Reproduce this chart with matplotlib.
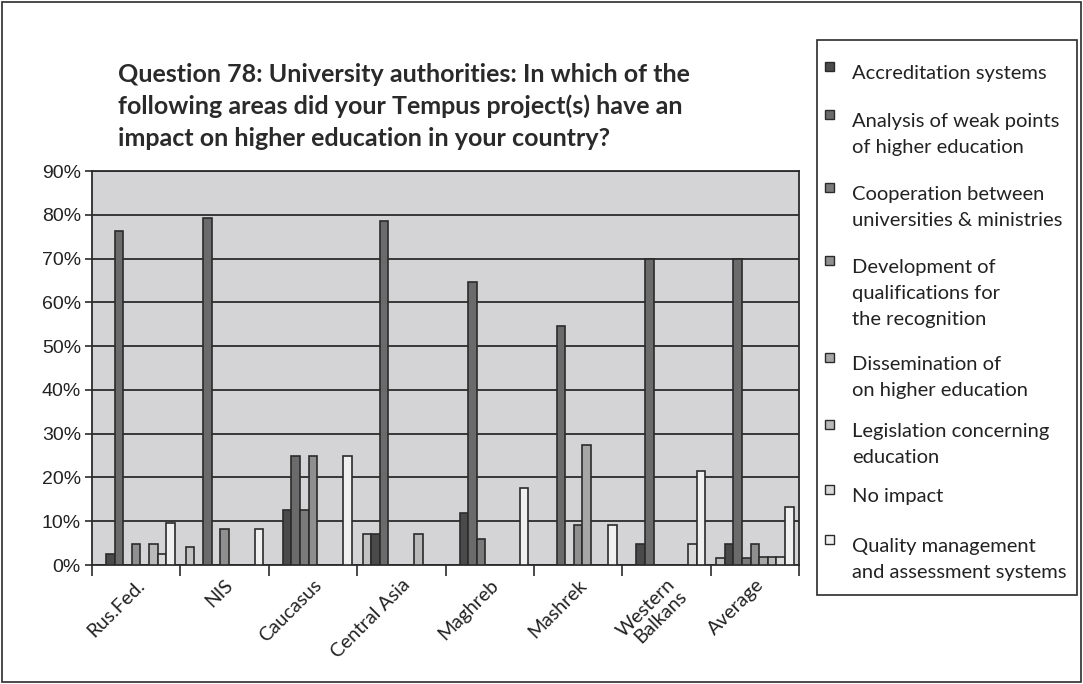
import numpy as np
import matplotlib.pyplot as plt
from matplotlib.patches import Rectangle

categories = ['Rus.Fed.', 'NIS', 'Caucasus', 'Central Asia', 'Maghreb',
              'Mashrek', 'Western\nBalkans', 'Average']

# one unnamed series plus the eight that are in the legend
unnamed = [0, 4.2, 0, 7.1, 0, 0, 0, 1.5]
accreditation = [2.4, 0, 12.5, 7.1, 11.8, 0, 4.8, 4.7]
analysis = [76.2, 79.2, 25, 78.6, 64.7, 54.5, 70, 70]
cooperation = [0, 0, 12.5, 0, 5.9, 0, 0, 1.5]
development = [4.8, 8.3, 25, 0, 0, 9.1, 0, 4.7]
dissemination = [0, 0, 0, 0, 0, 27.3, 0, 1.9]
legislation = [4.8, 0, 0, 7.1, 0, 0, 0, 1.9]
no_impact = [2.4, 0, 0, 0, 0, 0, 4.8, 1.9]
quality = [9.5, 8.3, 25, 0, 17.6, 9.1, 21.4, 13.3]

series = [unnamed, accreditation, analysis, cooperation, development,
          dissemination, legislation, no_impact, quality]
labels = [None,
          'Accreditation systems',
          'Analysis of weak points\nof higher education',
          'Cooperation between\nuniversities & ministries',
          'Development of\nqualifications for\nthe recognition',
          'Dissemination of\non higher education',
          'Legislation concerning\neducation',
          'No impact',
          'Quality management\nand assessment systems']
colors = ['#c2c2c2', '#4a4a4a', '#6b6b6b', '#7b7b7b', '#8f8f8f',
          '#a6a6a6', '#b9b9b9', '#d9d9d9', '#f0f0f0']
yticks = [0, 10, 20, 30, 40, 50, 60, 70, 80, 90]

W, H = 1083, 684
fig = plt.figure(figsize=(W / 100, H / 100), dpi=100)
ax = fig.add_axes([92 / W, 1 - 565 / H, (799 - 92) / W, (565 - 171) / H])

x = np.arange(len(categories))
w = 0.0973
for j, vals in enumerate(series):
    ax.bar(x + (j - 4) * w, vals, w, color=colors[j], edgecolor='#2b2b2b',
           linewidth=1.2, zorder=3)

ax.set_facecolor('#d4d4d6')
ax.set_xlim(-0.5, len(categories) - 0.5)
ax.set_ylim(0, 90)
ax.set_yticks(yticks)
ax.set_yticklabels([f'{t}%' for t in yticks], fontsize=14, family='Liberation Sans',
                   color='#222222')
ax.yaxis.grid(True, color='#2b2b2b', linewidth=1.3, zorder=0)
ax.set_axisbelow(True)

# separators between groups as ticks, names as minor ticks
ax.set_xticks(np.arange(-0.5, len(categories)), labels=[''] * (len(categories) + 1))
ax.set_xticks(x, minor=True)
ax.set_xticklabels(categories, minor=True, rotation=45, ha='right', va='top',
                   rotation_mode='anchor', fontsize=14, family='Lato', color='#222222',
                   linespacing=0.95)
ax.tick_params(axis='x', which='major', length=8, width=1.2, color='#2b2b2b')
ax.tick_params(axis='x', which='minor', length=0, pad=8)
ax.tick_params(axis='y', length=5, width=1.2, color='#2b2b2b', pad=3)
for s in ax.spines.values():
    s.set_color('#2b2b2b')
    s.set_linewidth(1.3)

# title
title = ['Question 78: University authorities: In which of the',
         'following areas did your Tempus project(s) have an',
         'impact on higher education in your country?']
for i, line in enumerate(title):
    fig.text(118 / W, 1 - (74 + 32 * i) / H, line, fontsize=18, fontweight='bold',
             family='Lato', color='#2a2a2a', va='center', ha='left')

# legend box drawn by hand
fig.patches.append(Rectangle((817 / W, 1 - 595 / H), (1077 - 817) / W, (595 - 40) / H,
                             transform=fig.transFigure, facecolor='white',
                             edgecolor='#2b2b2b', linewidth=1.2))
legend_y = [74, 122, 195, 268, 365, 432, 497, 547]
for k, yy in enumerate(legend_y):
    j = k + 1
    fig.patches.append(Rectangle((825 / W, 1 - (yy - 3) / H), 9 / W, 9 / H,
                                 transform=fig.transFigure, facecolor=colors[j],
                                 edgecolor='#2b2b2b', linewidth=1.0))
    for n, part in enumerate(labels[j].split('\n')):
        fig.text(852 / W, 1 - (yy + 5 + 26 * n) / H, part, fontsize=14.5,
                 family='Lato', color='#222222', va='baseline', ha='left')

# outer frame
fig.patches.append(Rectangle((2 / W, 2 / H), (W - 4) / W, (H - 4) / H,
                             transform=fig.transFigure, facecolor='none',
                             edgecolor='#2b2b2b', linewidth=1.2))

fig.savefig('out.png', dpi=100)
